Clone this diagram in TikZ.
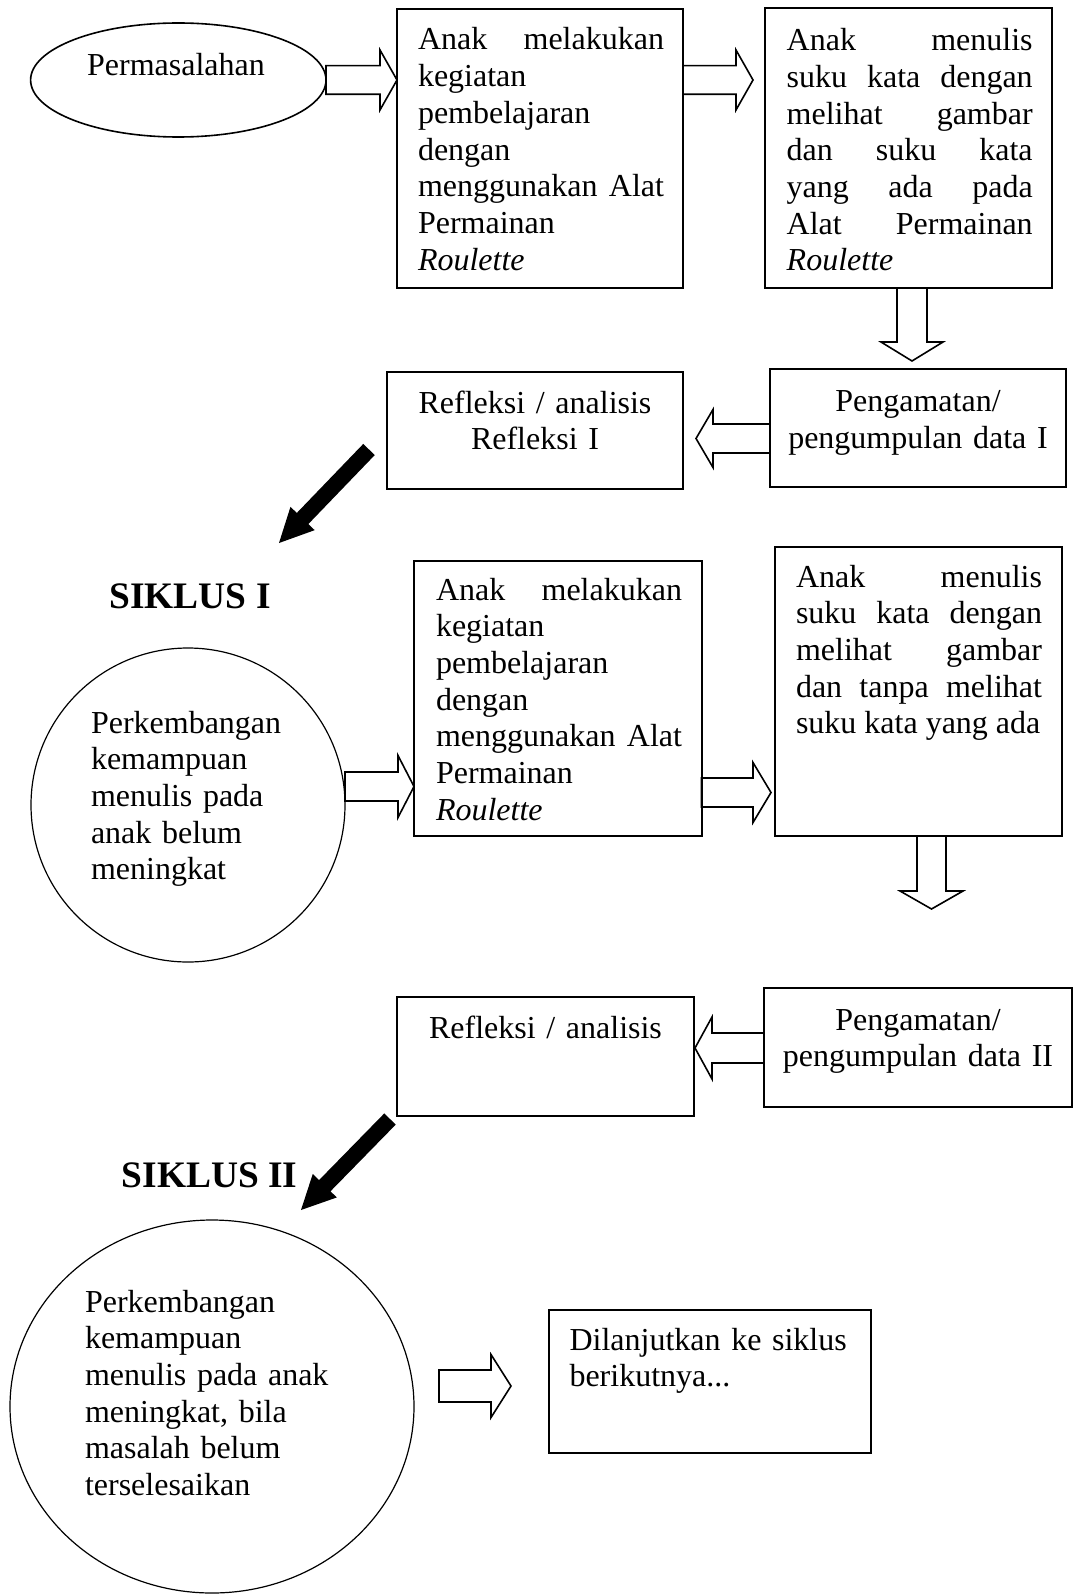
\documentclass[tikz,border=0pt]{standalone}
\usepackage{fontspec}
\setmainfont{Liberation Serif}
\usetikzlibrary{shapes.geometric,calc}
\hyphenpenalty=10000
\exhyphenpenalty=10000
\tolerance=10000
\hbadness=10000
\newcommand{\bodyfont}{\fontsize{16pt}{18.35pt}\selectfont}
% horizontal hollow block arrow: x start, x tip, y centre, shaft half, head half, head length (signed)
\newcommand{\hblockarrow}[6]{\draw[hollow] ({#1},{#3-#4}) -- ({#2-(#6)},{#3-#4}) -- ({#2-(#6)},{#3-#5}) -- ({#2},{#3}) -- ({#2-(#6)},{#3+#5}) -- ({#2-(#6)},{#3+#4}) -- ({#1},{#3+#4}) -- cycle;}
% vertical hollow block arrow: x centre, y start, y tip, shaft half, head half, head length
\newcommand{\vblockarrow}[6]{\draw[hollow] ({#1-#4},{#2}) -- ({#1-#4},{#3-(#6)}) -- ({#1-#5},{#3-(#6)}) -- ({#1},{#3}) -- ({#1+#5},{#3-(#6)}) -- ({#1+#4},{#3-(#6)}) -- ({#1+#4},{#2}) -- cycle;}
% solid black block arrow between two named coordinates
\newcommand{\blackblockarrow}[2]{%
  \coordinate (#2-b) at ($(#2)!17pt!(#1)$);
  \fill[black] ($(#1)!4pt!90:(#2)$) -- ($(#2-b)!4pt!90:(#2)$) -- ($(#2-b)!8.4pt!90:(#2)$) -- (#2) -- ($(#2-b)!8.4pt!-90:(#2)$) -- ($(#2-b)!4pt!-90:(#2)$) -- ($(#1)!4pt!-90:(#2)$) -- cycle;}
\begin{document}
\begin{tikzpicture}[x=0.5pt,y=-0.5pt,
  rbox/.style={draw,line width=1pt,rectangle,inner sep=0pt,outer sep=0pt},
  txt/.style={inner sep=0pt,outer sep=0pt,font=\bodyfont},
  jtxt/.style={txt,text width=123pt,align=justify,anchor=base west},
  ctxt/.style={txt,text width=160pt,align=center,anchor=base},
  ltxt/.style={txt,text width=170pt,align=left,anchor=base west},
  hollow/.style={draw,line width=0.8pt,line join=miter},
  siklus/.style={inner sep=0pt,outer sep=0pt,anchor=base west,font=\fontsize{18.7pt}{22pt}\selectfont\bfseries}]
\fill[white] (0,0) rectangle (1073,1594);
\useasboundingbox (0,0) rectangle (1073,1594);

% ---- row 1
\node[draw,ellipse,line width=0.8pt,inner sep=0pt,minimum width=147.7pt,minimum height=57pt] (E0) at (178.3,80) {};
\node[txt,anchor=base] (E0t) at (176,76) {Permasalahan};

\node[rbox,minimum width=143pt,minimum height=139.5pt] (A1) at (540,148.5) {};
\node[jtxt] (A1t) at (418,50) {Anak melakukan\linebreak kegiatan\linebreak pembelajaran\linebreak dengan\linebreak menggunakan Alat\linebreak Permainan\linebreak \textit{Roulette}};

\node[rbox,minimum width=143.5pt,minimum height=140pt] (A2) at (908.5,148) {};
\node[jtxt] (A2t) at (786.7,50.7) {Anak menulis\linebreak suku kata dengan\linebreak melihat gambar\linebreak dan suku kata\linebreak yang ada pada\linebreak Alat Permainan\linebreak \textit{Roulette}};

\hblockarrow{326}{397}{80}{14.3}{30}{17}
\hblockarrow{683}{753}{80}{14.3}{30}{17}
\vblockarrow{912}{288}{361}{15}{31}{19}

% ---- row 2
\node[rbox,minimum width=148pt,minimum height=59pt] (P1) at (918,428) {};
\node[ctxt] (P1t) at (918,411.7) {Pengamatan/\\ pengumpulan data I};

\node[rbox,minimum width=148pt,minimum height=58.5pt] (R1) at (535,430.5) {};
\node[ctxt] (R1t) at (535,413) {Refleksi / analisis\\ Refleksi I};

\hblockarrow{770}{696}{438.5}{14.5}{29}{-17}

\coordinate (k1s) at (369,449.5);
\coordinate (k1e) at (279,543);
\blackblockarrow{k1s}{k1e}

% ---- siklus I
\node[siklus] (S1) at (109.5,608) {SIKLUS I};

\node[draw,circle,line width=0.6pt,inner sep=0pt,minimum size=157pt] (C1) at (188,805) {};
\node[ltxt] (C1t) at (91,733) {Perkembangan\\ kemampuan\\ menulis pada\\ anak belum\\ meningkat};

\node[rbox,minimum width=143.75pt,minimum height=137.5pt] (B1) at (557.75,698.5) {};
\node[jtxt] (B1t) at (436,600) {Anak melakukan\linebreak kegiatan\linebreak pembelajaran\linebreak dengan\linebreak menggunakan Alat\linebreak Permainan\linebreak \textit{Roulette}};

\node[rbox,minimum width=143.5pt,minimum height=144.5pt] (B2) at (918.5,691.5) {};
\node[jtxt] (B2t) at (796,587) {Anak menulis\linebreak suku kata dengan\linebreak melihat gambar\linebreak dan tanpa melihat\linebreak suku kata yang ada};

\hblockarrow{345}{414}{786.5}{14.5}{31}{16}
\hblockarrow{701.5}{771}{792.5}{14.5}{30}{18}
\vblockarrow{931.5}{836}{909}{14.5}{31.5}{18}

% ---- row 4
\node[rbox,minimum width=153.75pt,minimum height=59.5pt] (P2) at (917.75,1047.5) {};
\node[ctxt] (P2t) at (918,1030) {Pengamatan/\\ pengumpulan data II};

\node[rbox,minimum width=148.5pt,minimum height=59.5pt] (R2) at (545.5,1056.5) {};
\node[ctxt] (R2t) at (545.5,1038) {Refleksi / analisis};

\hblockarrow{764}{695}{1048}{15}{31}{-17}

\coordinate (k2s) at (390,1119);
\coordinate (k2e) at (301,1210);
\blackblockarrow{k2s}{k2e}

% ---- siklus II
\node[siklus] (S2) at (121.7,1187) {SIKLUS II};

\node[draw,ellipse,line width=0.6pt,inner sep=0pt,minimum width=202pt,minimum height=186.5pt] (C2) at (212,1406.5) {};
\node[ltxt] (C2t) at (85,1312) {Perkembangan\\ kemampuan\\ menulis pada anak\\ meningkat, bila\\ masalah belum\\ terselesaikan};

\node[rbox,minimum width=161pt,minimum height=71.5pt] (D) at (710,1381.5) {};
\node[ltxt] (Dt) at (569.5,1350) {Dilanjutkan ke siklus\\ berikutnya...};

\hblockarrow{439}{511}{1386}{16}{31.5}{20}
\end{tikzpicture}
\end{document}
